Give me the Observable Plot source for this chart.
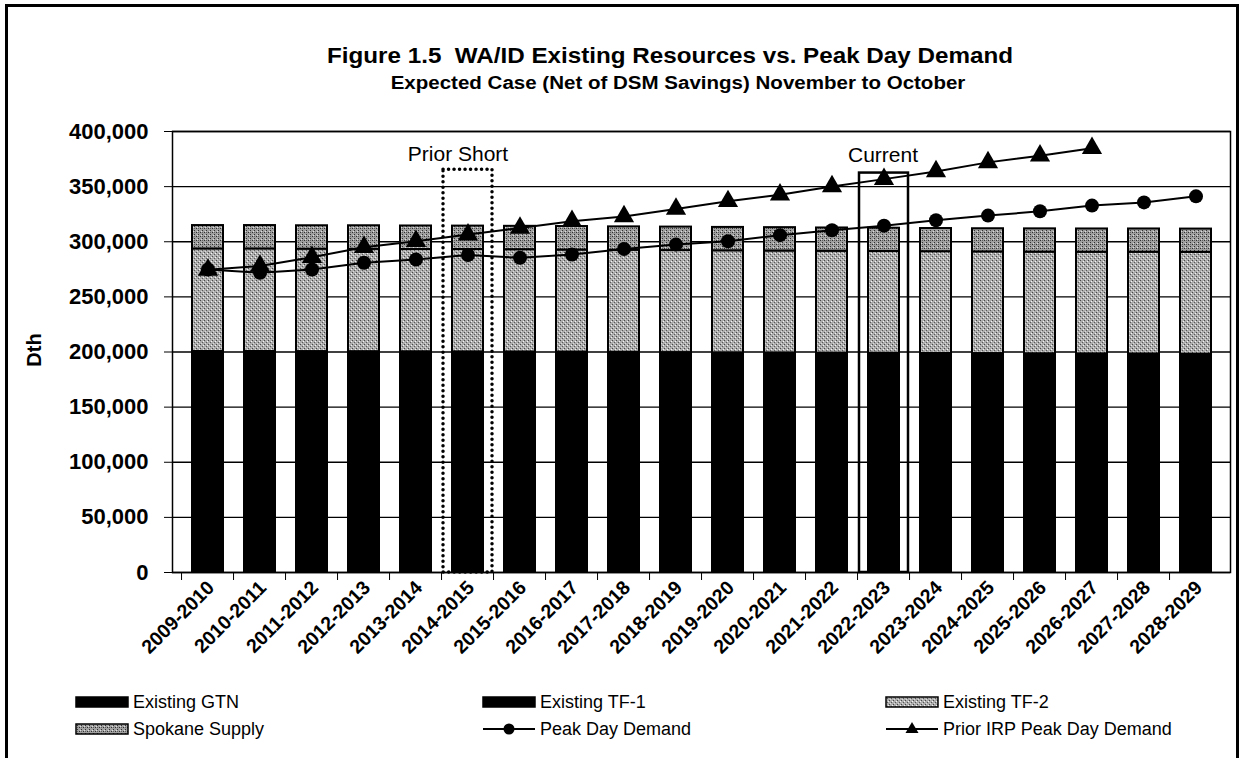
<!DOCTYPE html>
<html>
<head>
<meta charset="utf-8">
<script src="https://cdn.jsdelivr.net/npm/d3@7"></script>
<script src="https://cdn.jsdelivr.net/npm/@observablehq/plot@0.6"></script>
<style>
  body { margin: 0; background: #fff; font-family: "Liberation Sans", Arial, sans-serif; }
  #wrap { position: relative; width: 1241px; height: 758px; overflow: hidden; background: #fff; }
  #border { position: absolute; left: 5px; top: 4px; width: 1234px; height: 770px; border: 3px solid #000; border-bottom: none; box-sizing: border-box; }
  #title { position: absolute; left: 670px; top: 45px; transform: translateX(-50%) scaleX(1.1); white-space: nowrap; font-weight: bold; font-size: 22px; line-height: 22px; }
  #subtitle { position: absolute; left: 678px; top: 74px; transform: translateX(-50%) scaleX(1.14); white-space: nowrap; font-weight: bold; font-size: 18px; line-height: 18px; }
  #ylabel { position: absolute; left: 34px; top: 350px; transform: translate(-50%, -50%) rotate(-90deg); font-weight: bold; font-size: 20px; white-space: nowrap; }
  #chart { position: absolute; left: 0; top: 100px; }
  .leg { position: absolute; display: flex; align-items: center; font-size: 18px; white-space: nowrap; height: 20px; }
  .leg svg { display: block; margin-right: 4px; }
</style>
</head>
<body>
<svg width="0" height="0" style="position:absolute">
  <defs>
    <pattern id="pTF2" width="4" height="4" patternUnits="userSpaceOnUse">
      <rect width="4" height="4" fill="#acacac"/>
      <rect x="0" y="0" width="1" height="1" fill="#484848"/>
      <rect x="2" y="2" width="1" height="1" fill="#585858"/>
      <rect x="3" y="1" width="1" height="1" fill="#f4f4f4"/>
      <rect x="1" y="3" width="1" height="1" fill="#dcdcdc"/>
    </pattern>
    <pattern id="pSPK" width="4" height="4" patternUnits="userSpaceOnUse">
      <rect width="4" height="4" fill="#a0a0a0"/>
      <rect x="0" y="0" width="1" height="1" fill="#303030"/>
      <rect x="2" y="2" width="1" height="1" fill="#303030"/>
      <rect x="2" y="0" width="1" height="1" fill="#5e5e5e"/>
      <rect x="1" y="3" width="1" height="1" fill="#dcdcdc"/>
    </pattern>
  </defs>
</svg>
<div id="wrap">
  <div id="border"></div>
  <div id="title">Figure 1.5&nbsp; WA/ID Existing Resources vs. Peak Day Demand</div>
  <div id="subtitle">Expected Case (Net of DSM Savings) November to October</div>
  <div id="ylabel">Dth</div>
  <div id="chart"></div>
  <div id="legend"></div>
</div>
<script>
// ---- data ----
const categories = ["2009-2010","2010-2011","2011-2012","2012-2013","2013-2014","2014-2015","2015-2016","2016-2017","2017-2018","2018-2019","2019-2020","2020-2021","2021-2022","2022-2023","2023-2024","2024-2025","2025-2026","2026-2027","2027-2028","2028-2029"];
const seriesNames = ["Existing GTN","Existing TF-1","Existing TF-2","Spokane Supply"];
const existingGTN  = [171600,171600,171600,171600,171600,171600,171600,171600,171600,171600,171600,171600,171600,171600,171600,171600,171600,171600,171600,171600];
const existingTF1  = [28900,28900,28800,28700,28600,28500,28400,28300,28100,27900,27700,27600,27400,27300,27100,27000,26800,26700,26600,26400];
const existingTF2  = [93000,93000,92900,92900,92800,92900,92800,92600,92600,92500,92500,92400,92400,92300,92300,92200,92200,92200,92300,92400];
const spokaneSupply= [21200,21200,21200,21300,21300,21200,21200,21300,21200,21300,21200,21200,21100,21100,21000,21000,21100,21100,21100,21100];
const peakDayDemand = [274800,271800,274800,281000,283900,288000,285400,288400,293500,297400,300500,306000,310400,314600,319500,323700,327600,332800,335700,341200];
const priorIRPCategories = categories.slice(0, 18);
const priorIRPDemand = [274500,278000,286000,295000,300500,306500,312500,318600,323000,329700,336700,342700,350200,356800,363800,372000,378000,384900];
const yTicks = [0,50000,100000,150000,200000,250000,300000,350000,400000];
const priorShort = {cat: "2014-2015", top: 365300, label: "Prior Short", labelY: 379000};
const current = {cat: "2022-2023", top: 362300, label: "Current", labelY: 378000};

// ---- build tables ----
const seriesValues = [existingGTN, existingTF1, existingTF2, spokaneSupply];
const stacked = [];
seriesNames.forEach((s, si) => categories.forEach((c, ci) => stacked.push({cat: c, series: s, value: seriesValues[si][ci]})));
const peak = categories.map((c, i) => ({cat: c, v: peakDayDemand[i]}));
const prior = priorIRPCategories.map((c, i) => ({cat: c, v: priorIRPDemand[i]}));

const fills = {"Existing GTN": "#000", "Existing TF-1": "#000", "Existing TF-2": "url(#pTF2)", "Spokane Supply": "url(#pSPK)"};

const W = 1241, H = 560, mL = 172, mR = 11, mT = 31, mB = 88;
const padIn = 0.41, padOut = 0.2;
const step = (W - mL - mR) / (categories.length - padIn + 2 * padOut);
const fontBold = {fontSize: 22, fontWeight: "bold", fontFamily: "Liberation Sans, Arial, sans-serif"};

const chart = Plot.plot({
  width: W, height: H,
  marginLeft: mL, marginRight: mR, marginTop: mT, marginBottom: mB,
  style: {background: "transparent", fontFamily: "Liberation Sans, Arial, sans-serif", color: "#000", overflow: "visible"},
  x: {type: "band", domain: categories, paddingInner: padIn, paddingOuter: padOut, label: null},
  y: {domain: [0, 400000], label: null},
  color: {type: "ordinal", domain: seriesNames, range: seriesNames.map(s => fills[s])},
  marks: [
    Plot.ruleY(yTicks, {stroke: "#000", strokeWidth: 1.4}),
    Plot.barY(stacked, {x: "cat", y: "value", fill: "series", stroke: "#000", strokeWidth: 2}),
    Plot.line(peak, {x: "cat", y: "v", stroke: "#000", strokeWidth: 2}),
    Plot.line(prior, {x: "cat", y: "v", stroke: "#000", strokeWidth: 2}),
    Plot.dot(peak, {x: "cat", y: "v", r: 7, fill: "#000", symbol: "circle"}),
    Plot.dot(prior, {x: "cat", y: "v", r: 7.5, fill: "#000", symbol: "triangle"}),
    Plot.barY([priorShort], {x: "cat", y1: 0, y2: "top", fill: "none", stroke: "#000", strokeWidth: 3.5, strokeDasharray: "0.1 5.4", strokeLinecap: "round", insetLeft: -9, insetRight: -9}),
    Plot.barY([current], {x: "cat", y1: 0, y2: "top", fill: "none", stroke: "#000", strokeWidth: 2.5, insetLeft: -9, insetRight: -9}),
    Plot.text([priorShort], {x: "cat", y: "labelY", text: "label", dx: -10, fontSize: 21, fill: "#000"}),
    Plot.text([current], {x: "cat", y: "labelY", text: "label", dx: -1, fontSize: 21, fill: "#000"}),
    Plot.frame({stroke: "#000", strokeWidth: 1.5}),
    Plot.axisY({ticks: yTicks, tickFormat: d3.format(","), tickSize: 8, tickPadding: 16, ...fontBold, label: null}),
    Plot.axisX({tickSize: 8, tickFormat: () => "", dx: -step / 2, label: null}),
    Plot.axisX({tickSize: 0, tickPadding: 12, tickRotate: -45, dx: 3, fontSize: 19.5, fontWeight: "bold", label: null})
  ]
});
document.getElementById("chart").appendChild(chart);

// ---- legend (HTML, below the chart) ----
const legendItems = [
  {name: "Existing GTN", kind: "box", left: 75, top: 692},
  {name: "Existing TF-1", kind: "box", left: 482, top: 692},
  {name: "Existing TF-2", kind: "box", left: 885, top: 692},
  {name: "Spokane Supply", kind: "box", left: 75, top: 719},
  {name: "Peak Day Demand", kind: "circle", left: 482, top: 719},
  {name: "Prior IRP Peak Day Demand", kind: "triangle", left: 885, top: 719}
];
const legend = document.getElementById("legend");
legendItems.forEach(it => {
  const d = document.createElement("div");
  d.className = "leg";
  d.style.left = it.left + "px";
  d.style.top = it.top + "px";
  let sw;
  if (it.kind === "box") {
    sw = `<svg width="54" height="20"><rect x="1" y="5" width="52" height="10" fill="${fills[it.name]}" stroke="#000" stroke-width="1.5"/></svg>`;
  } else if (it.kind === "circle") {
    sw = `<svg width="54" height="20"><line x1="1" x2="53" y1="10" y2="10" stroke="#000" stroke-width="2"/><circle cx="27" cy="10" r="5.5" fill="#000"/></svg>`;
  } else {
    sw = `<svg width="54" height="20"><line x1="1" x2="53" y1="10" y2="10" stroke="#000" stroke-width="2"/><path d="M27,3 L33.5,14 L20.5,14 Z" fill="#000"/></svg>`;
  }
  d.innerHTML = sw + `<span>${it.name}</span>`;
  legend.appendChild(d);
});
</script>
</body>
</html>
